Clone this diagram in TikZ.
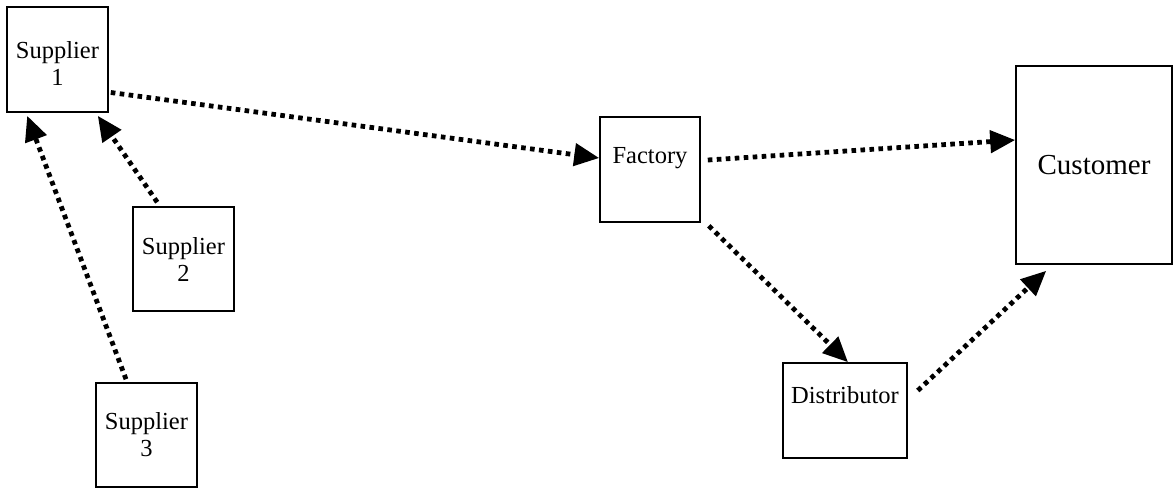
\documentclass[tikz,border=0pt]{standalone}
\usepackage{fontspec}
\setmainfont{Liberation Serif}
\usepackage{tikz}
\usetikzlibrary{arrows.meta,calc}

\begin{document}
\begin{tikzpicture}[x=0.5pt,y=-0.5pt,
  box/.style={draw,line width=0.8pt,align=center,inner sep=2pt,font=\fontsize{12.25}{13.5}\selectfont},
  arr/.style={-{Triangle[length=12.5pt,width=11pt]},line width=2.4pt,dash pattern=on 2.3pt off 2.2pt}
]
  \useasboundingbox (0,0) rectangle (1173,489);
  % boxes
  \node[box,minimum width=50.5pt,minimum height=52.5pt,text height=26pt,text depth=0pt] (s1) at (57.5,59.5) {Supplier\\1};
  \node[box,minimum width=50.5pt,minimum height=52pt] (s2) at (183.5,259) {Supplier\\2};
  \node[box,minimum width=50.5pt,minimum height=52pt] (s3) at (146.5,435) {Supplier\\3};
  \node[box,minimum width=50pt,minimum height=52.5pt,text height=9pt,text depth=15pt] (fac) at (650,169.5) {Factory};
  \node[box,minimum width=62pt,minimum height=47.5pt,text height=9pt,text depth=16.5pt] (dist) at (845,410.5) {Distributor};
  \node[box,minimum width=78pt,minimum height=99pt,font=\fontsize{14.5}{17}\selectfont] (cust) at (1094,165) {Customer};
  % flows
  \draw[arr] ($(s2.north west)+(25,-4)$) -- ($(s1.south east)+(-11,3)$);
  \draw[arr] ($(s3.north)+(-20.5,-3)$) -- ($(s1.south west)+(21,3)$);
  \draw[arr] ($(s1.east)+(2,33)$) -- ($(fac.west)+(0,-11.5)$);
  \draw[arr] ($(fac.east)+(7,-9.5)$) -- ($(cust.west)+(0,-25)$);
  \draw[arr] ($(fac.south east)+(8,3)$) -- ($(dist.north)+(3,0)$);
  \draw[arr] ($(dist.east)+(10,-20)$) -- ($(cust.south west)+(31,6)$);
\end{tikzpicture}
\end{document}
